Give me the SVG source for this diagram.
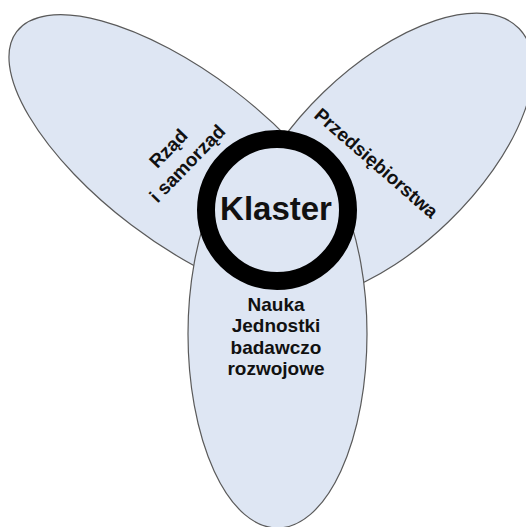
<svg xmlns="http://www.w3.org/2000/svg" width="526" height="527" viewBox="0 0 526 527">
<style>
.lobe{fill:#dee6f3;stroke:#5a5a5a;stroke-width:1.2}
.ring{fill:#dee6f3;stroke:#000;stroke-width:18}
.t{font-family:"Liberation Sans",Arial,sans-serif;font-weight:bold;fill:#111;text-anchor:middle}
.s{font-size:19px}
.k{font-size:33px}
</style>
<rect width="526" height="527" fill="#fff"/>
<g id="rzad">
<ellipse class="lobe" cx="182.6" cy="157.6" rx="208.3" ry="84.7" transform="rotate(37.2 182.6 157.6)"/>
</g>
<g id="przedsiebiorstwa">
<ellipse class="lobe" cx="386" cy="157" rx="185" ry="90" transform="rotate(-44 386 157)"/>
</g>
<g id="nauka">
<ellipse class="lobe" cx="277.5" cy="334" rx="89.5" ry="194"/>
</g>
<g id="klaster">
<circle class="ring" cx="277" cy="210" r="71"/>
<text class="t k" x="276" y="220">Klaster</text>
</g>
<g id="labels">
<text class="t s" transform="translate(173 153) rotate(-46)">Rząd</text>
<text class="t s" transform="translate(192 168) rotate(-46)">i samorząd</text>
<text class="t s" transform="translate(372 168) rotate(41)">Przedsiębiorstwa</text>
<text class="t s" x="276" y="311">Nauka</text>
<text class="t s" x="276" y="332">Jednostki</text>
<text class="t s" x="276" y="353.5">badawczo</text>
<text class="t s" x="276" y="375">rozwojowe</text>
</g>
<g id="connectors"/>
</svg>
